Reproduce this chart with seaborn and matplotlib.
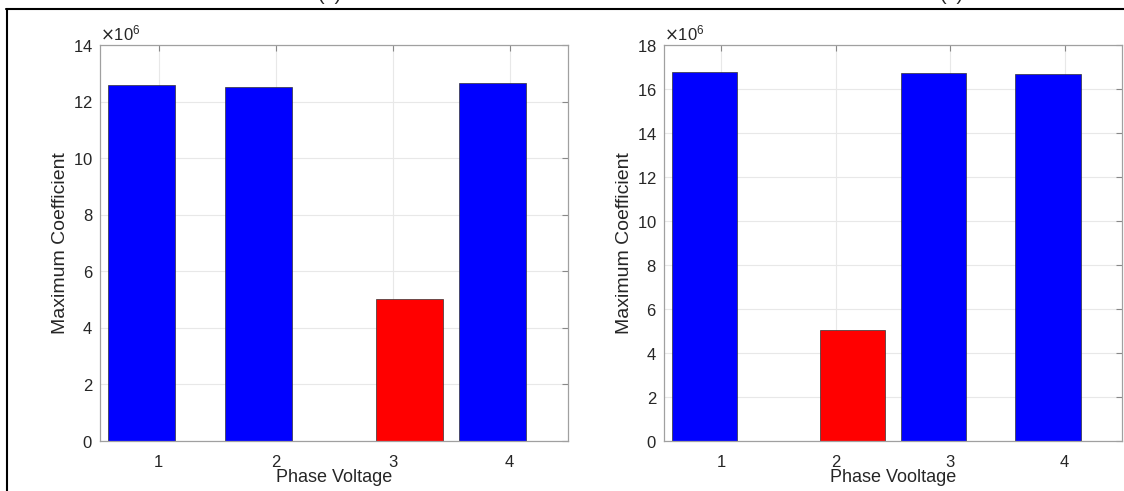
import pandas as pd
import matplotlib.pyplot as plt
import seaborn as sns

# --- Data ---
phases = [1, 2, 3, 4]
left_values = [12.58e6, 12.52e6, 5.02e6, 12.64e6]
left_series = ['normal', 'normal', 'fault', 'normal']
right_values = [16.79e6, 5.03e6, 16.73e6, 16.70e6]
right_series = ['normal', 'fault', 'normal', 'normal']
y_limits = [14e6, 18e6]
x_labels = ['Phase Voltage', 'Phase Vooltage']
captions = ['(a)', '(b)']

# MATLAB-style grouped bars: each series sits left/right of the group centre
series_offset = {'normal': -0.145, 'fault': 0.145}
palette = {'normal': '#0000ff', 'fault': '#ff0000'}
bar_width = 0.57

sns.set_style("whitegrid")
plt.rcParams['font.family'] = ['Liberation Sans Narrow', 'Liberation Sans', 'DejaVu Sans']

fig = plt.figure(figsize=(11.24, 4.91), dpi=100)
ax_left = fig.add_axes([0.089, 0.1018, 0.4164, 0.8065])
ax_right = fig.add_axes([0.5907, 0.1018, 0.4075, 0.8065])

panels = [(ax_left, left_values, left_series), (ax_right, right_values, right_series)]
for i, (ax, vals, series) in enumerate(panels):
    df = pd.DataFrame({'Phase': phases, 'Value': vals, 'Series': series})
    df['Pos'] = df['Phase'] + df['Series'].map(series_offset)
    gap = df['Pos'].sort_values().diff().min()
    sns.barplot(data=df, x='Pos', y='Value', hue='Series', palette=palette,
                native_scale=True, width=bar_width / gap, legend=False,
                edgecolor='#333333', linewidth=0.5, saturation=1, ax=ax)

    ax.set_xlim(0.5, 4.5)
    ax.set_ylim(0, y_limits[i])
    ax.set_xticks(phases)
    ax.set_yticks(range(0, int(y_limits[i]) + 1, 2_000_000))
    ax.ticklabel_format(axis='y', style='sci', scilimits=(6, 6), useMathText=True)
    ax.yaxis.get_offset_text().set_color('#555555')
    ax.yaxis.get_offset_text().set_fontsize(12)

    ax.grid(True, color='#e8e8e8', linewidth=0.8)
    ax.set_axisbelow(True)
    for sp in ax.spines.values():
        sp.set_color('#a0a0a0')
        sp.set_linewidth(0.9)
    ax.tick_params(direction='in', length=4, color='#888888', labelsize=12,
                   labelcolor='#262626', top=True, right=True)
    ax.tick_params(axis='x', pad=10)
    ax.tick_params(axis='y', pad=5)

    ax.set_xlabel(x_labels[i], fontsize=13, color='#262626', labelpad=-1)
    ax.set_ylabel('Maximum Coefficient', fontsize=14, color='#262626',
                  family=['Liberation Sans', 'DejaVu Sans'], labelpad=3)

    # caption above the panel, mostly cut off by the page edge
    fig.text([0.2936, 0.847][i], 0.999, captions[i], fontsize=14,
             ha='center', va='baseline', color='#222222')

# table border lines around the panels
fig.add_artist(plt.Line2D([0.005, 1.0], [0.982, 0.982], color='black', lw=1.5))
fig.add_artist(plt.Line2D([0.0058, 0.0058], [0.0, 0.982], color='black', lw=1.5))

plt.savefig("out.png", dpi=100)
